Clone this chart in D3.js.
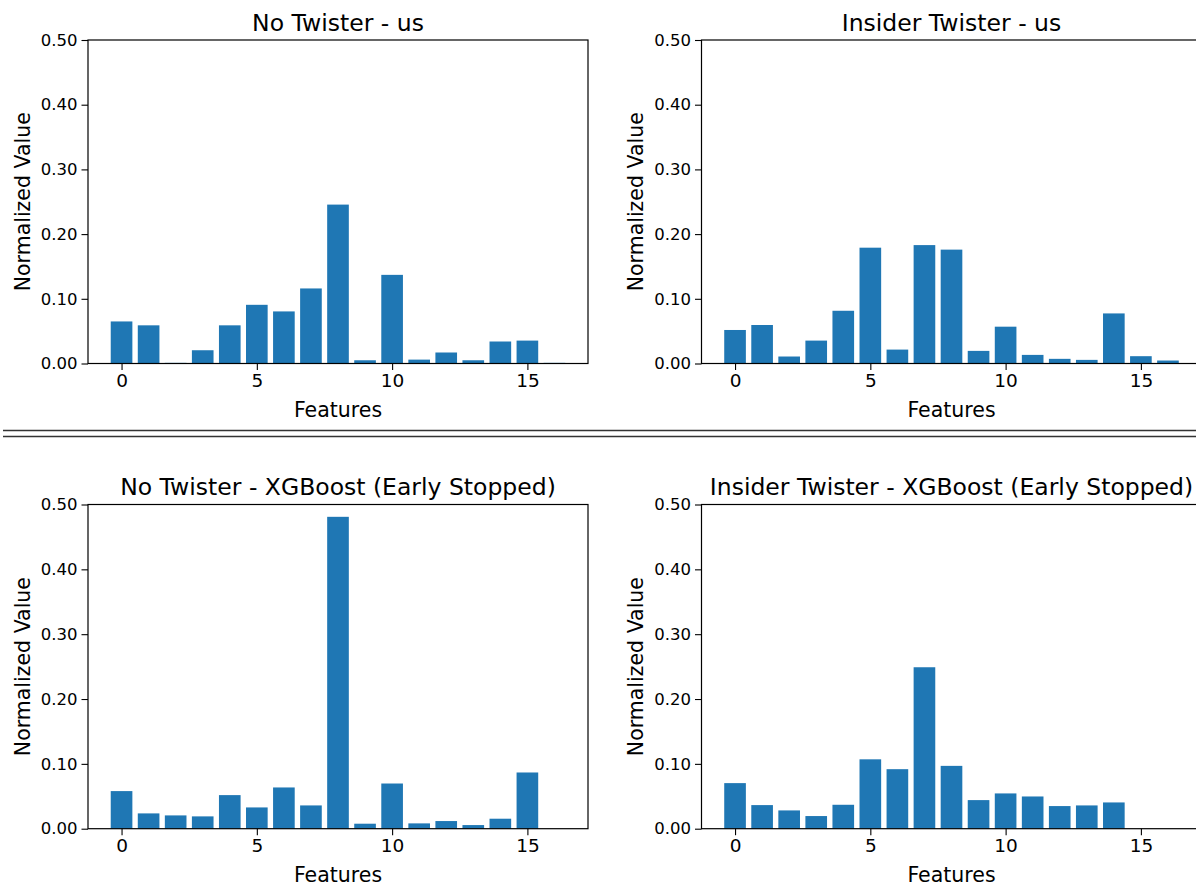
<!DOCTYPE html>
<html>
<head>
<meta charset="utf-8">
<script src="https://cdn.jsdelivr.net/npm/d3@7"></script>
<style>
  html, body { margin: 0; padding: 0; background: #fff; }
  svg { display: block; font-family: "DejaVu Sans", sans-serif; }
</style>
</head>
<body>
<svg id="chart" width="1196" height="886"></svg>
<script>
// ---- data ----
const features = [0, 1, 2, 3, 4, 5, 6, 7, 8, 9, 10, 11, 12, 13, 14, 15, 16];
const xTickValues = [0, 5, 10, 15];
const yTickValues = [0, 0.1, 0.2, 0.3, 0.4, 0.5];

const titles = [
  "No Twister - us",
  "Insider Twister - us",
  "No Twister - XGBoost (Early Stopped)",
  "Insider Twister - XGBoost (Early Stopped)"
];
const noTwisterUs        = [0.065, 0.059, 0.001, 0.0205, 0.059, 0.0907, 0.0805, 0.116, 0.2456, 0.005, 0.137, 0.006, 0.017, 0.005, 0.034, 0.0354, 0.001];
const insiderTwisterUs   = [0.0518, 0.0595, 0.0108, 0.0354, 0.0815, 0.179, 0.0215, 0.183, 0.176, 0.0195, 0.0569, 0.0133, 0.0072, 0.0056, 0.0774, 0.0113, 0.0046];
const noTwisterXgb       = [0.058, 0.0236, 0.0205, 0.019, 0.0518, 0.0328, 0.0636, 0.0359, 0.481, 0.0077, 0.0697, 0.0082, 0.0118, 0.0056, 0.0154, 0.0867, 0];
const insiderTwisterXgb  = [0.0703, 0.0364, 0.0282, 0.0195, 0.0369, 0.107, 0.0918, 0.249, 0.0969, 0.0441, 0.0544, 0.0497, 0.0349, 0.0359, 0.0405, 0, 0];
const seriesList = [noTwisterUs, insiderTwisterUs, noTwisterXgb, insiderTwisterXgb];

// ---- layout ----
const svg = d3.select("#chart");
const W = 1196, H = 886;
const panels = [
  { x0: 88,    x1: 588,    y0: 40,    y1: 363.5 },
  { x0: 701.5, x1: 1201.5, y0: 40,    y1: 363.5 },
  { x0: 88,    x1: 588,    y0: 504.5, y1: 828.7 },
  { x0: 701.5, x1: 1201.5, y0: 504.5, y1: 828.7 }
];
const barColor = "#1f77b4";

panels.forEach((p, k) => {
  const data = seriesList[k];
  const x = d3.scaleLinear().domain([-1.24, 17.24]).range([p.x0, p.x1]);
  const y = d3.scaleLinear().domain([0, 0.5]).range([p.y1, p.y0]);
  const g = svg.append("g");

  // bars
  g.selectAll("rect.bar").data(features).enter().append("rect")
    .attr("class", "bar")
    .attr("x", d => x(d - 0.4))
    .attr("width", d => x(d + 0.4) - x(d - 0.4))
    .attr("y", d => y(data[d]))
    .attr("height", d => y(0) - y(data[d]))
    .attr("fill", barColor);

  // x axis
  const xAxis = d3.axisBottom(x).tickValues(xTickValues).tickFormat(d3.format("d"))
    .tickSize(6.5).tickPadding(4);
  const gx = g.append("g").attr("transform", `translate(0,${p.y1})`).call(xAxis);
  gx.select(".domain").remove();
  gx.selectAll(".tick line").attr("stroke", "#000").attr("stroke-width", 1.1);
  gx.selectAll(".tick text").attr("font-size", "18.5px").attr("fill", "#000")
    .attr("font-family", "DejaVu Sans, sans-serif");

  // y axis
  const yAxis = d3.axisLeft(y).tickValues(yTickValues).tickFormat(d3.format(".2f"))
    .tickSize(6.5).tickPadding(4);
  const gy = g.append("g").attr("transform", `translate(${p.x0},0)`).call(yAxis);
  gy.select(".domain").remove();
  gy.selectAll(".tick line").attr("stroke", "#000").attr("stroke-width", 1.1);
  gy.selectAll(".tick text").attr("font-size", "16.5px").attr("fill", "#000")
    .attr("font-family", "DejaVu Sans, sans-serif");

  // frame (spines)
  g.append("rect")
    .attr("x", p.x0).attr("y", p.y0)
    .attr("width", p.x1 - p.x0).attr("height", p.y1 - p.y0)
    .attr("fill", "none").attr("stroke", "#000").attr("stroke-width", 1.2);

  // title
  g.append("text")
    .attr("x", (p.x0 + p.x1) / 2).attr("y", p.y0 - 9.5)
    .attr("text-anchor", "middle")
    .attr("font-size", "23.5px").attr("fill", "#000")
    .text(titles[k]);

  // x label
  g.append("text")
    .attr("x", (p.x0 + p.x1) / 2).attr("y", p.y1 + 53.3)
    .attr("text-anchor", "middle")
    .attr("font-size", "20.5px").attr("fill", "#000")
    .text("Features");

  // y label
  g.append("text")
    .attr("transform", `translate(${p.x0 - 58.5},${(p.y0 + p.y1) / 2}) rotate(-90)`)
    .attr("text-anchor", "middle")
    .attr("font-size", "20.5px").attr("fill", "#000")
    .text("Normalized Value");
});

// separator double line
[430.5, 436.5].forEach(yy => {
  svg.append("line")
    .attr("x1", 3).attr("x2", W)
    .attr("y1", yy).attr("y2", yy)
    .attr("stroke", "#333").attr("stroke-width", 1.4);
});
</script>
</body>
</html>
